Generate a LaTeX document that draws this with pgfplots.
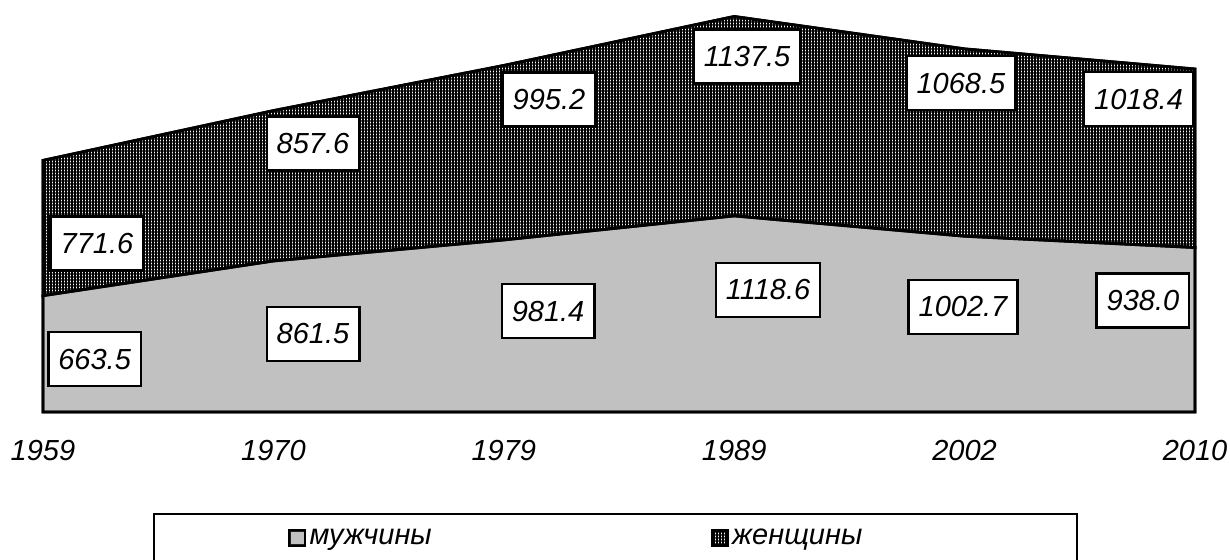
\documentclass[border=0pt]{standalone}
\usepackage{pgfplots}
\pgfplotsset{compat=1.18}
\usepackage{fontspec}
\setmainfont{Liberation Sans}
\usetikzlibrary{patterns.meta}
\newcommand{\ff}{\fontsize{14.5pt}{17pt}\selectfont\itshape}
\tikzset{lbl/.style={draw=black, line width=1.2pt, fill=white, font=\ff, inner xsep=5pt, minimum height=27pt}}
\begin{document}
\begin{tikzpicture}
\begin{axis}[
  at={(0,0)}, anchor=south west,
  scale only axis, width=576pt, height=206pt,
  xmin=0, xmax=5, ymin=0, ymax=2350,
  stack plots=y,
  axis line style={draw=none}, tick style={draw=none},
  major tick length=0pt,
  ytick=\empty,
  xtick={0,1,2,3,4,5},
  xticklabels={1959,1970,1979,1989,2002,2010},
  xticklabel style={font=\ff, yshift=-10.7pt},
  clip=false,
  legend columns=2,
  legend style={at={(0.0955,-0.2451)}, anchor=north west, draw=black, line width=1pt,
    inner xsep=67.5pt, inner ysep=4.5pt, font=\ff,
    nodes={inner xsep=2pt, inner ysep=1pt, text height=10pt, text depth=3pt}},
  legend cell align=left,
  legend image code/.code={\draw[#1, line width=0.7pt] (0pt,-3.8pt) rectangle (7.6pt,3.8pt);},
]
\addplot[draw=black, line width=1.4pt, preaction={fill=black!18},
  pattern={Dots[distance=1pt, radius=0.32pt]}, pattern color=black!45]
  coordinates {(0,663.5) (1,861.5) (2,981.4) (3,1118.6) (4,1002.7) (5,938.0)} \closedcycle;
\addlegendentry{\makebox[199pt][l]{мужчины}}
\addplot[draw=black, line width=1.4pt, preaction={fill=white},
  pattern={Hatch[angle=0, distance=1.5pt, line width=0.55pt]}, pattern color=black]
  coordinates {(0,771.6) (1,857.6) (2,995.2) (3,1137.5) (4,1068.5) (5,1018.4)} \closedcycle;
\addlegendentry{\makebox[103pt][l]{женщины}}
\coordinate (m0) at (axis cs:0.224,302);
\coordinate (m1) at (axis cs:1.172,445);
\coordinate (m2) at (axis cs:2.192,576);
\coordinate (m3) at (axis cs:3.147,696);
\coordinate (m4) at (axis cs:3.993,599);
\coordinate (m5) at (axis cs:4.774,636);
\coordinate (w0) at (axis cs:0.234,961);
\coordinate (w1) at (axis cs:1.172,1531);
\coordinate (w2) at (axis cs:2.196,1782);
\coordinate (w3) at (axis cs:3.056,2027);
\coordinate (w4) at (axis cs:3.984,1876);
\coordinate (w5) at (axis cs:4.755,1784);
\end{axis}
\node[lbl] at (m0) {663.5};
\node[lbl] at (m1) {861.5};
\node[lbl] at (m2) {981.4};
\node[lbl] at (m3) {1118.6};
\node[lbl] at (m4) {1002.7};
\node[lbl] at (m5) {938.0};
\node[lbl] at (w0) {771.6};
\node[lbl] at (w1) {857.6};
\node[lbl] at (w2) {995.2};
\node[lbl] at (w3) {1137.5};
\node[lbl] at (w4) {1068.5};
\node[lbl] at (w5) {1018.4};
\pgfresetboundingbox
\path[use as bounding box] (-21.5pt,-73.5pt) rectangle (593.5pt,206pt);
\end{tikzpicture}
\end{document}
